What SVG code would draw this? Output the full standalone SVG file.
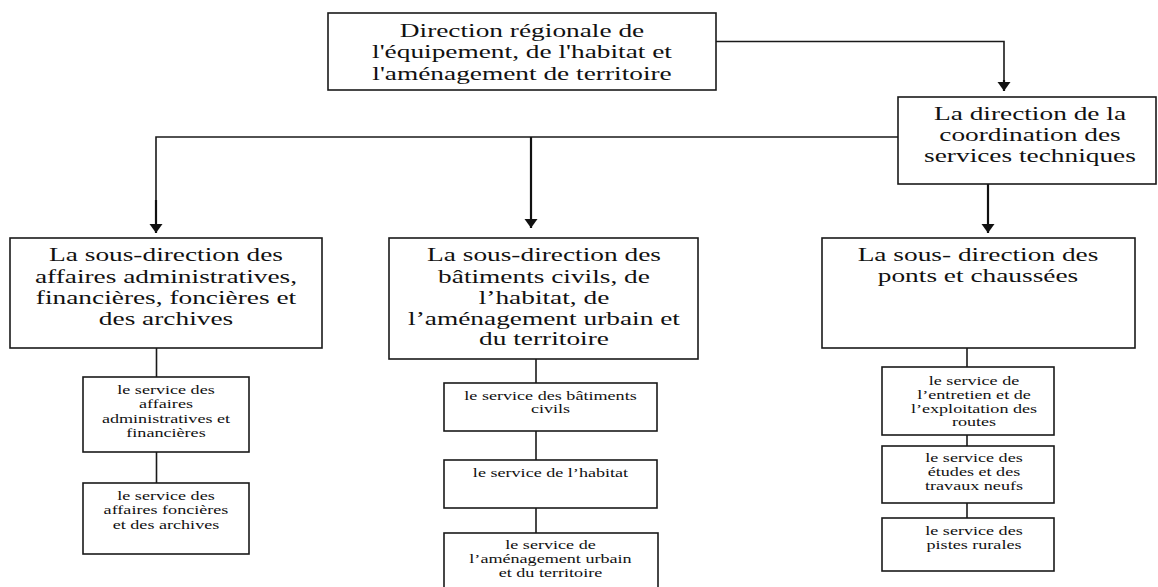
<svg xmlns="http://www.w3.org/2000/svg" width="1158" height="587" viewBox="0 0 1158 587">
<style>
  .box { fill: #fff; stroke: #1a1a1a; stroke-width: 1.6; }
  .ln { fill: none; stroke: #1a1a1a; stroke-width: 1.6; }
  .arr { fill: none; stroke: #111; stroke-width: 2.2; marker-end: url(#ah); }
  .big { font-family: "Liberation Serif", "Times New Roman", serif; font-size: 18px; fill: #111; text-anchor: middle; }
  .small { font-family: "Liberation Serif", "Times New Roman", serif; font-size: 12.5px; fill: #111; text-anchor: middle; }
</style>
<defs>
  <marker id="ah" markerWidth="14" markerHeight="14" refX="9" refY="6.5" orient="auto" markerUnits="userSpaceOnUse">
    <path d="M0,0 L9,6.5 L0,13 Z" fill="#111"/>
  </marker>
</defs>
<rect width="1158" height="587" fill="#fff"/>

<g id="connectors">
  <polyline class="ln" points="716,41.5 1004,41.5 1004,84"/>
  <line class="arr" x1="1004" y1="80" x2="1004" y2="91"/>
  <polyline class="ln" points="898,137 156,137 156,227"/>
  <line class="arr" x1="156" y1="200" x2="156" y2="233"/>
  <line class="arr" x1="531" y1="137" x2="531" y2="228"/>
  <line class="arr" x1="988" y1="184" x2="988" y2="233"/>
  <line class="ln" x1="156.5" y1="348" x2="156.5" y2="377"/>
  <line class="ln" x1="156.5" y1="452" x2="156.5" y2="483"/>
  <line class="ln" x1="536" y1="359" x2="536" y2="383"/>
  <line class="ln" x1="536" y1="431" x2="536" y2="460"/>
  <line class="ln" x1="536" y1="508" x2="536" y2="533"/>
  <line class="ln" x1="967" y1="348" x2="967" y2="367"/>
  <line class="ln" x1="967" y1="435" x2="967" y2="446"/>
  <line class="ln" x1="967" y1="503" x2="967" y2="518"/>
</g>

<g id="n-top">
  <rect class="box" x="328" y="13" width="388" height="77"/>
  <g transform="translate(522,0) scale(1.52,1)">
    <text class="big" x="0" y="37">Direction régionale de</text>
    <text class="big" x="0" y="58.5">l'équipement, de l'habitat et</text>
    <text class="big" x="0" y="80">l'aménagement de territoire</text>
  </g>
</g>

<g id="n-coord">
  <rect class="box" x="898" y="97" width="258" height="87"/>
  <g transform="translate(1030,0) scale(1.52,1)">
    <text class="big" x="0" y="120">La direction de la</text>
    <text class="big" x="0" y="141.5">coordination des</text>
    <text class="big" x="0" y="162">services techniques</text>
  </g>
</g>

<g id="n-sd-admin">
  <rect class="box" x="10" y="238" width="312" height="110"/>
  <g transform="translate(166,0) scale(1.52,1)">
    <text class="big" x="0" y="261">La sous-direction des</text>
    <text class="big" x="0" y="283">affaires administratives,</text>
    <text class="big" x="0" y="304">financières, foncières et</text>
    <text class="big" x="0" y="325">des archives</text>
  </g>
</g>

<g id="n-sd-bat">
  <rect class="box" x="389" y="238" width="309" height="121"/>
  <g transform="translate(544,0) scale(1.52,1)">
    <text class="big" x="0" y="261">La sous-direction des</text>
    <text class="big" x="0" y="283">bâtiments civils, de</text>
    <text class="big" x="0" y="304">l’habitat, de</text>
    <text class="big" x="0" y="325">l’aménagement urbain et</text>
    <text class="big" x="0" y="345.5">du territoire</text>
  </g>
</g>

<g id="n-sd-ponts">
  <rect class="box" x="822" y="238" width="313" height="110"/>
  <g transform="translate(978,0) scale(1.52,1)">
    <text class="big" x="0" y="261.5">La sous- direction des</text>
    <text class="big" x="0" y="282">ponts et chaussées</text>
  </g>
</g>

<g id="n-s-admin">
  <rect class="box" x="83" y="377" width="166" height="75"/>
  <g transform="translate(166,0) scale(1.45,1)">
    <text class="small" x="0" y="394">le service des</text>
    <text class="small" x="0" y="408.5">affaires</text>
    <text class="small" x="0" y="423">administratives et</text>
    <text class="small" x="0" y="437.5">financières</text>
  </g>
</g>

<g id="n-s-fonc">
  <rect class="box" x="83" y="483" width="166" height="71"/>
  <g transform="translate(166,0) scale(1.45,1)">
    <text class="small" x="0" y="500">le service des</text>
    <text class="small" x="0" y="514.5">affaires foncières</text>
    <text class="small" x="0" y="529">et des archives</text>
  </g>
</g>

<g id="n-s-bat">
  <rect class="box" x="444" y="383" width="213" height="48"/>
  <g transform="translate(550.5,0) scale(1.45,1)">
    <text class="small" x="0" y="400">le service des bâtiments</text>
    <text class="small" x="0" y="413.5">civils</text>
  </g>
</g>

<g id="n-s-hab">
  <rect class="box" x="444" y="460" width="213" height="48"/>
  <g transform="translate(550.5,0) scale(1.45,1)">
    <text class="small" x="0" y="477">le service de l’habitat</text>
  </g>
</g>

<g id="n-s-amen">
  <rect class="box" x="444" y="533" width="214" height="60"/>
  <g transform="translate(550.5,0) scale(1.45,1)">
    <text class="small" x="0" y="549">le service de</text>
    <text class="small" x="0" y="563.5">l’aménagement urbain</text>
    <text class="small" x="0" y="577.5">et du territoire</text>
  </g>
</g>

<g id="n-s-entr">
  <rect class="box" x="882" y="367" width="172" height="68"/>
  <g transform="translate(974,0) scale(1.45,1)">
    <text class="small" x="0" y="385">le service de</text>
    <text class="small" x="0" y="399">l’entretien et de</text>
    <text class="small" x="0" y="413">l’exploitation des</text>
    <text class="small" x="0" y="426.5">routes</text>
  </g>
</g>

<g id="n-s-etud">
  <rect class="box" x="882" y="446" width="172" height="57"/>
  <g transform="translate(974,0) scale(1.45,1)">
    <text class="small" x="0" y="462">le service des</text>
    <text class="small" x="0" y="476">études et des</text>
    <text class="small" x="0" y="490">travaux neufs</text>
  </g>
</g>

<g id="n-s-pistes">
  <rect class="box" x="882" y="518" width="172" height="53"/>
  <g transform="translate(974,0) scale(1.45,1)">
    <text class="small" x="0" y="535">le service des</text>
    <text class="small" x="0" y="549.5">pistes rurales</text>
  </g>
</g>
</svg>
